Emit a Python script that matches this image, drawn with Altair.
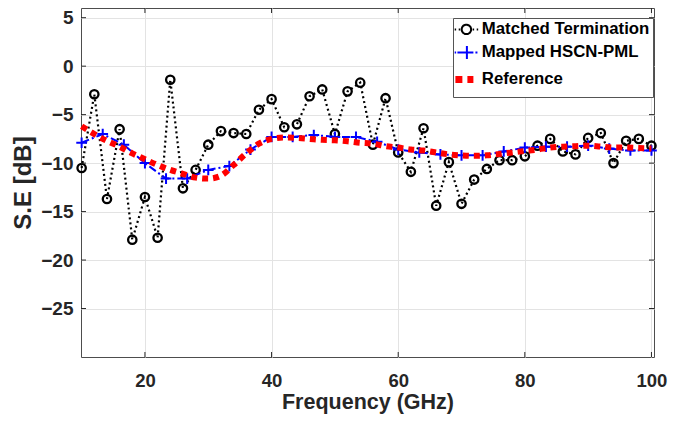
import altair as alt
import pandas as pd

# ---- data ----
freq_mt = [10, 12, 14, 16, 18, 20, 22, 24, 26, 28, 30, 32, 34, 36, 38, 40, 42, 44, 46, 48,
           50, 52, 54, 56, 58, 60, 62, 64, 66, 68, 70, 72, 74, 76, 78, 80, 82, 84, 86, 88,
           90, 92, 94, 96, 98, 100]
se_mt = [-10.5, -2.9, -13.7, -6.5, -17.9, -13.5, -17.7, -1.4, -12.6, -10.7, -8.1, -6.7, -6.9,
         -7.0, -4.5, -3.4, -6.3, -6.0, -3.1, -2.4, -7.0, -2.6, -1.7, -8.1, -3.3, -8.9, -10.9,
         -6.4, -14.4, -9.9, -14.2, -11.7, -10.6, -9.7, -9.7, -9.3, -8.2, -7.5, -8.8, -9.1,
         -7.4, -6.9, -10.0, -7.7, -7.5, -8.2]

freq_map = [10, 13.33, 16.67, 20, 23.33, 26.67, 30, 33.33, 36.67, 40, 43.33, 46.67, 50, 53.33,
            56.67, 60, 63.33, 66.67, 70, 73.33, 76.67, 80, 83.33, 86.67, 90, 93.33, 96.67, 100]
se_map = [-7.9, -7.0, -8.1, -10.0, -11.6, -11.6, -10.7, -10.3, -8.6, -7.3, -7.3, -7.1, -7.3,
          -7.3, -7.8, -8.6, -8.9, -9.1, -9.2, -9.2, -8.8, -8.4, -8.3, -8.3, -8.2, -8.5, -8.7, -8.7]

freq_ref = [10, 12, 14, 16, 18, 20, 22, 24, 26, 28, 30, 32, 34, 36, 38, 40, 42, 44, 46, 48,
            50, 52, 54, 56, 58, 60, 62, 64, 66, 68, 70, 72, 74, 76, 78, 80, 82, 84, 86, 88,
            90, 92, 94, 96, 98, 100]
se_ref = [-6.2, -7.0, -7.7, -8.3, -9.0, -9.6, -10.2, -10.7, -11.1, -11.5, -11.6, -11.3, -10.2,
          -9.0, -8.0, -7.5, -7.35, -7.4, -7.5, -7.6, -7.65, -7.75, -7.9, -8.0, -8.25, -8.4,
          -8.6, -8.7, -8.9, -9.1, -9.2, -9.25, -9.2, -9.05, -8.9, -8.75, -8.6, -8.4, -8.3,
          -8.25, -8.2, -8.3, -8.4, -8.4, -8.45, -8.5]

names = ["Matched Termination", "Mapped HSCN-PML", "Reference"]
colors = ["#000000", "#0000ff", "#ff0000"]
x_ticks = [20, 40, 60, 80, 100]
y_ticks = [-25, -20, -15, -10, -5, 0, 5]

W, H = 573, 349

df = pd.concat([
    pd.DataFrame({"f": freq_mt, "se": se_mt, "series": names[0]}),
    pd.DataFrame({"f": freq_map, "se": se_map, "series": names[1]}),
    pd.DataFrame({"f": freq_ref, "se": se_ref, "series": names[2]}),
], ignore_index=True)
xt = pd.DataFrame({"t": x_ticks})
yt = pd.DataFrame({"t": y_ticks})

FONT = "Liberation Sans"
TXT = "#262626"

xs = alt.Scale(domain=[9.9, 100.4], nice=False, zero=False)
ys = alt.Scale(domain=[-30, 6], nice=False, zero=False)

main_x_axis = alt.Axis(values=x_ticks, title="Frequency (GHz)", grid=True, gridColor="#e3e3e3",
                       domain=False, ticks=False, labelPadding=14, labelFont=FONT,
                       labelFontSize=18.5, labelFontWeight="bold", labelColor=TXT,
                       titleFont=FONT, titleFontSize=21.5, titleFontWeight="bold",
                       titleColor=TXT, titlePadding=2)
main_y_axis = alt.Axis(values=y_ticks, title="S.E [dB]", grid=True, gridColor="#e3e3e3",
                       domain=False, ticks=False, labelPadding=8, labelFont=FONT,
                       labelFontSize=19, labelFontWeight="bold", labelColor=TXT,
                       titleFont=FONT, titleFontSize=24, titleFontWeight="bold",
                       titleColor=TXT, titlePadding=5)

# legend glyphs (line sample with marker), unit coordinates
p_mt = ("M-0.53,0L-0.45,0M-0.31,0L-0.23,0"
        "M0.365,0A0.256,0.256 0 1,1 -0.147,0A0.256,0.256 0 1,1 0.365,0"
        "M0.45,0L0.53,0M0.67,0L0.75,0")
p_map = ("M-0.53,0L-0.45,0M-0.38,0L0.49,0M0.136,-0.354L0.136,0.354"
         "M0.6,0L0.71,0")
p_ref = "M-0.49,0L-0.11,0M0.163,0L0.49,0"
shape_expr = ("datum.value === 'Matched Termination' ? '" + p_mt + "' : "
              "datum.value === 'Mapped HSCN-PML' ? '" + p_map + "' : '" + p_ref + "'")

legend = alt.Legend(
    title=None, orient="none", legendX=372, legendY=10, direction="vertical",
    fillColor="white", strokeColor="#555555", padding=3, symbolSize=1350, labelOffset=9,
    rowPadding=2, labelFont=FONT, labelFontSize=16.8, labelFontWeight="bold",
    labelColor="black", labelLimit=400,
    symbolType=alt.ExprRef(expr=shape_expr),
    symbolStrokeWidth=alt.ExprRef(expr="datum.value === 'Reference' ? 7 : 2"),
    symbolDash=[1, 0],
    symbolFillColor="transparent",
)
color = alt.Color("series:N", scale=alt.Scale(domain=names, range=colors), legend=legend)

base = alt.Chart(df)

mt_line = base.transform_filter(alt.datum.series == names[0]).mark_line(
    strokeWidth=2.2, strokeDash=[2, 3]).encode(
    x=alt.X("f:Q", scale=xs, axis=main_x_axis),
    y=alt.Y("se:Q", scale=ys, axis=main_y_axis),
    color=color)
mt_pts = base.transform_filter(alt.datum.series == names[0]).mark_point(
    shape="circle", filled=False, size=70, strokeWidth=2.3, color="black", opacity=1).encode(
    x=alt.X("f:Q", scale=xs), y=alt.Y("se:Q", scale=ys))

map_line = base.transform_filter(alt.datum.series == names[1]).mark_line(
    strokeWidth=2, strokeDash=[8, 3, 2, 3]).encode(
    x=alt.X("f:Q", scale=xs), y=alt.Y("se:Q", scale=ys), color=color)
map_pts = base.transform_filter(alt.datum.series == names[1]).mark_point(
    shape="M-1,0L1,0M0,-1L0,1", filled=False, size=115, strokeWidth=2, color="#0000ff",
    opacity=1).encode(
    x=alt.X("f:Q", scale=xs), y=alt.Y("se:Q", scale=ys))

ref_line = base.transform_filter(alt.datum.series == names[2]).mark_line(
    strokeWidth=6, strokeDash=[6, 5], interpolate="monotone").encode(
    x=alt.X("f:Q", scale=xs), y=alt.Y("se:Q", scale=ys), color=color)

# inward tick marks on all four sides of the box
tick_style = dict(color=TXT, strokeWidth=1)
t_bottom = alt.Chart(xt).mark_rule(**tick_style).encode(
    x=alt.X("t:Q", scale=xs), y=alt.value(H), y2=alt.value(H - 5))
t_top = alt.Chart(xt).mark_rule(**tick_style).encode(
    x=alt.X("t:Q", scale=xs), y=alt.value(0), y2=alt.value(5))
t_left = alt.Chart(yt).mark_rule(**tick_style).encode(
    y=alt.Y("t:Q", scale=ys), x=alt.value(0), x2=alt.value(5))
t_right = alt.Chart(yt).mark_rule(**tick_style).encode(
    y=alt.Y("t:Q", scale=ys), x=alt.value(W), x2=alt.value(W - 5))

chart = alt.layer(mt_line, mt_pts, map_line, map_pts, ref_line,
                  t_bottom, t_top, t_left, t_right).properties(
    width=W, height=H,
    autosize=alt.AutoSizeParams(type="none"),
    padding={"left": 73, "top": 0, "right": 20, "bottom": 68},
    background="white",
).configure_view(stroke="#4d4d4d", strokeWidth=1)

chart.save("out.html", embed_options={"renderer": "svg", "actions": False})
